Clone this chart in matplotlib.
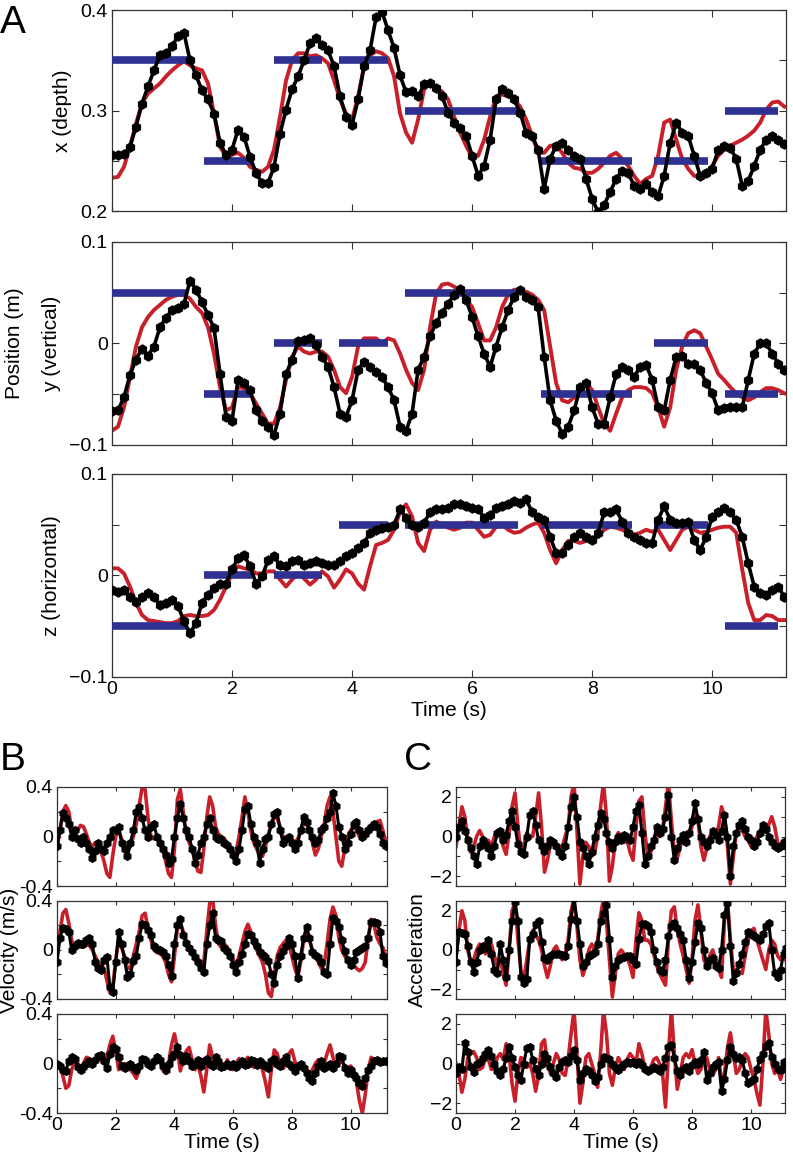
import numpy as np
import matplotlib

matplotlib.use("Agg")
import matplotlib.pyplot as plt

plt.rcParams["font.family"] = ["Liberation Sans", "DejaVu Sans"]

# time base for every trace (s)
t = np.arange(113) * 0.1

# ---- panel A: position ----
x_meas = [0.256, 0.256, 0.257, 0.264, 0.284, 0.307, 0.324, 0.340, 0.355, 0.357,
          0.364, 0.374, 0.377, 0.350, 0.335, 0.320, 0.311, 0.297, 0.268, 0.256,
          0.261, 0.281, 0.274, 0.254, 0.238, 0.228, 0.228, 0.244, 0.277, 0.301,
          0.321, 0.334, 0.350, 0.367, 0.372, 0.365, 0.360, 0.344, 0.314, 0.294,
          0.286, 0.311, 0.344, 0.360, 0.393, 0.398, 0.380, 0.362, 0.335, 0.318,
          0.319, 0.314, 0.326, 0.327, 0.322, 0.314, 0.298, 0.288, 0.283, 0.275,
          0.255, 0.235, 0.245, 0.271, 0.311, 0.321, 0.317, 0.311, 0.298, 0.278,
          0.275, 0.261, 0.222, 0.252, 0.265, 0.268, 0.261, 0.255, 0.252, 0.232,
          0.212, 0.199, 0.206, 0.219, 0.232, 0.240, 0.238, 0.225, 0.222, 0.227,
          0.219, 0.215, 0.235, 0.268, 0.288, 0.278, 0.275, 0.255, 0.235, 0.238,
          0.242, 0.261, 0.265, 0.263, 0.252, 0.225, 0.230, 0.245, 0.261, 0.271,
          0.275, 0.271, 0.267]
x_pred = [0.233, 0.234, 0.244, 0.264, 0.287, 0.307, 0.317, 0.322, 0.327, 0.334,
          0.340, 0.345, 0.349, 0.345, 0.342, 0.340, 0.327, 0.297, 0.264, 0.254,
          0.256, 0.258, 0.253, 0.244, 0.241, 0.239, 0.244, 0.261, 0.294, 0.330,
          0.350, 0.357, 0.357, 0.354, 0.355, 0.352, 0.347, 0.330, 0.311, 0.297,
          0.291, 0.314, 0.344, 0.355, 0.359, 0.357, 0.352, 0.334, 0.297, 0.278,
          0.268, 0.291, 0.321, 0.327, 0.322, 0.319, 0.311, 0.294, 0.278, 0.265,
          0.253, 0.255, 0.271, 0.294, 0.314, 0.316, 0.314, 0.311, 0.304, 0.291,
          0.275, 0.258, 0.258, 0.265, 0.265, 0.258, 0.248, 0.243, 0.242, 0.238,
          0.238, 0.242, 0.248, 0.255, 0.258, 0.252, 0.245, 0.235, 0.227, 0.232,
          0.235, 0.255, 0.288, 0.291, 0.271, 0.252, 0.242, 0.235, 0.234, 0.238,
          0.245, 0.255, 0.261, 0.265, 0.268, 0.271, 0.275, 0.280, 0.288, 0.301,
          0.308, 0.309, 0.304]
y_meas = [-0.067, -0.066, -0.053, -0.031, -0.016, -0.005, -0.012, -0.003, 0.016, 0.025,
          0.033, 0.035, 0.039, 0.062, 0.053, 0.041, 0.028, 0.015, -0.030, -0.072,
          -0.076, -0.036, -0.039, -0.046, -0.066, -0.076, -0.082, -0.090, -0.069, -0.030,
          -0.016, 0.002, 0.003, 0.005, -0.002, -0.013, -0.023, -0.043, -0.069, -0.072,
          -0.056, -0.026, -0.018, -0.023, -0.028, -0.033, -0.043, -0.056, -0.082, -0.086,
          -0.069, -0.026, -0.013, 0.007, 0.020, 0.030, 0.039, 0.048, 0.054, 0.043,
          0.026, 0.007, -0.010, -0.023, -0.003, 0.016, 0.033, 0.046, 0.053, 0.046,
          0.043, 0.036, -0.013, -0.056, -0.076, -0.089, -0.082, -0.066, -0.043, -0.039,
          -0.063, -0.079, -0.079, -0.053, -0.030, -0.023, -0.026, -0.033, -0.023, -0.021,
          -0.036, -0.063, -0.066, -0.036, -0.013, -0.012, -0.020, -0.020, -0.026, -0.039,
          -0.049, -0.066, -0.064, -0.063, -0.063, -0.063, -0.036, -0.010, 0.000, 0.000,
          -0.010, -0.020, -0.026]
y_pred = [-0.086, -0.082, -0.063, -0.033, -0.003, 0.016, 0.026, 0.033, 0.038, 0.043,
          0.046, 0.048, 0.048, 0.044, 0.036, 0.030, 0.016, -0.010, -0.043, -0.066,
          -0.063, -0.043, -0.044, -0.049, -0.059, -0.069, -0.079, -0.079, -0.063, -0.036,
          -0.013, -0.003, -0.008, -0.010, -0.008, -0.008, -0.013, -0.026, -0.043, -0.049,
          -0.033, -0.003, 0.005, 0.005, 0.005, 0.000, 0.005, 0.003, -0.010, -0.026,
          -0.039, -0.046, -0.026, 0.016, 0.049, 0.058, 0.059, 0.056, 0.051, 0.043,
          0.036, 0.020, 0.003, 0.003, 0.016, 0.036, 0.048, 0.053, 0.051, 0.051,
          0.048, 0.043, 0.033, -0.003, -0.039, -0.056, -0.058, -0.053, -0.043, -0.039,
          -0.046, -0.063, -0.079, -0.086, -0.069, -0.053, -0.046, -0.043, -0.043, -0.044,
          -0.049, -0.063, -0.082, -0.063, -0.026, -0.003, 0.010, 0.013, 0.010, -0.003,
          -0.016, -0.030, -0.036, -0.043, -0.049, -0.053, -0.056, -0.053, -0.048, -0.044,
          -0.044, -0.046, -0.049]
z_meas = [-0.014, -0.016, -0.014, -0.021, -0.026, -0.021, -0.017, -0.021, -0.029, -0.027,
          -0.024, -0.030, -0.045, -0.057, -0.047, -0.027, -0.019, -0.012, -0.008, -0.008,
          0.006, 0.017, 0.020, 0.009, -0.008, -0.001, 0.015, 0.019, 0.010, 0.009,
          0.014, 0.015, 0.010, 0.012, 0.014, 0.012, 0.010, 0.010, 0.014, 0.019,
          0.022, 0.027, 0.032, 0.042, 0.045, 0.047, 0.048, 0.050, 0.065, 0.057,
          0.050, 0.048, 0.052, 0.062, 0.065, 0.065, 0.066, 0.070, 0.070, 0.068,
          0.066, 0.065, 0.057, 0.060, 0.066, 0.068, 0.070, 0.073, 0.071, 0.075,
          0.062, 0.058, 0.055, 0.038, 0.022, 0.022, 0.030, 0.038, 0.042, 0.038,
          0.035, 0.042, 0.062, 0.062, 0.065, 0.053, 0.042, 0.038, 0.035, 0.032,
          0.032, 0.055, 0.068, 0.055, 0.052, 0.052, 0.053, 0.035, 0.025, 0.038,
          0.058, 0.062, 0.066, 0.062, 0.055, 0.038, 0.012, -0.011, -0.017, -0.019,
          -0.014, -0.011, -0.021]
z_pred = [0.007, 0.007, 0.002, -0.011, -0.027, -0.039, -0.044, -0.045, -0.046, -0.047,
          -0.047, -0.045, -0.040, -0.039, -0.040, -0.040, -0.039, -0.034, -0.024, -0.011,
          0.002, 0.009, 0.007, 0.006, 0.002, 0.002, 0.004, 0.004, -0.004, -0.011,
          -0.004, 0.002, -0.003, -0.009, -0.004, 0.004, -0.001, -0.012, -0.004, 0.006,
          0.002, -0.008, -0.014, 0.009, 0.030, 0.032, 0.035, 0.045, 0.063, 0.070,
          0.058, 0.032, 0.024, 0.045, 0.053, 0.050, 0.047, 0.045, 0.047, 0.052,
          0.052, 0.045, 0.038, 0.040, 0.048, 0.050, 0.045, 0.042, 0.043, 0.047,
          0.050, 0.052, 0.042, 0.025, 0.012, 0.025, 0.034, 0.034, 0.032, 0.034,
          0.035, 0.038, 0.045, 0.048, 0.047, 0.045, 0.042, 0.040, 0.042, 0.045,
          0.043, 0.045, 0.035, 0.025, 0.035, 0.045, 0.048, 0.045, 0.042, 0.043,
          0.045, 0.047, 0.048, 0.048, 0.042, 0.006, -0.027, -0.044, -0.044, -0.039,
          -0.040, -0.044, -0.044]

# target holds: start, end (s) and level for x, y, z
hold_start = [0.0, 1.53, 2.70, 3.78, 4.88, 7.14, 9.03, 10.22]
hold_end = [1.27, 2.33, 3.50, 4.60, 6.77, 8.66, 9.93, 11.10]
x_target = [0.35, 0.25, 0.35, 0.35, 0.30, 0.25, 0.25, 0.30]
y_target = [0.05, -0.05, 0.0, 0.0, 0.05, -0.05, 0.0, -0.05]
z_target = [-0.05, 0.0, 0.0, 0.05, 0.05, 0.05, 0.05, -0.05]

# ---- panel B: velocity (m/s) ----
vx_meas = [-0.08, 0.05, 0.19, 0.15, 0.10, 0.00, 0.05, -0.02, -0.05, 0.00,
           -0.05, -0.10, -0.17, -0.12, -0.05, -0.10, -0.12, -0.05, 0.00, 0.05,
           0.05, 0.08, -0.05, -0.10, -0.16, -0.05, 0.05, 0.20, 0.24, 0.15,
           0.05, 0.00, 0.08, 0.10, 0.00, -0.05, -0.10, -0.15, -0.21, -0.18,
           0.00, 0.15, 0.26, 0.15, 0.05, 0.00, -0.10, -0.21, -0.15, -0.05,
           0.00, 0.10, 0.15, 0.05, 0.00, -0.02, -0.02, -0.05, -0.07, -0.10,
           -0.15, -0.20, -0.10, 0.05, 0.22, 0.25, 0.10, 0.00, -0.05, -0.21,
           -0.10, -0.02, 0.00, 0.10, 0.18, 0.20, 0.05, -0.05, -0.02, 0.00,
           -0.05, -0.10, -0.05, 0.05, 0.16, 0.12, 0.05, 0.00, -0.05, -0.03,
           0.05, 0.08, 0.15, 0.20, 0.35, 0.25, 0.08, 0.00, -0.10, -0.05,
           0.02, 0.10, 0.12, 0.05, 0.00, 0.02, 0.05, 0.08, 0.10, 0.08,
           0.02, -0.05, -0.08]
vx_pred = [-0.10, 0.05, 0.20, 0.25, 0.20, 0.05, 0.00, 0.05, 0.09, 0.08,
           0.02, -0.05, -0.08, -0.05, -0.08, -0.12, -0.20, -0.30, -0.33, -0.15,
           0.00, 0.05, -0.02, -0.08, -0.12, -0.08, 0.00, 0.10, 0.25, 0.40,
           0.38, 0.15, 0.00, -0.02, -0.02, -0.05, -0.10, -0.20, -0.30, -0.33,
           -0.10, 0.30, 0.38, 0.20, 0.02, -0.05, -0.10, -0.20, -0.28, -0.29,
           -0.10, 0.15, 0.32, 0.25, 0.08, 0.02, 0.00, -0.02, -0.05, -0.10,
           -0.16, -0.12, 0.00, 0.15, 0.32, 0.20, 0.05, -0.05, -0.10, -0.15,
           -0.16, -0.08, 0.02, 0.10, 0.15, 0.15, 0.08, 0.00, -0.02, 0.00,
           -0.02, -0.05, -0.02, 0.05, 0.10, 0.10, 0.05, -0.05, -0.15, -0.10,
           0.00, 0.10, 0.25, 0.32, 0.20, 0.00, -0.20, -0.24, -0.10, 0.00,
           0.05, 0.08, 0.05, 0.00, -0.02, 0.02, 0.05, 0.08, 0.10, 0.12,
           0.13, 0.05, -0.05]
vy_meas = [-0.10, 0.10, 0.18, 0.17, 0.15, 0.00, 0.03, 0.06, 0.05, 0.05,
           0.08, 0.10, 0.05, -0.10, -0.15, -0.16, -0.08, -0.06, -0.30, -0.34,
           -0.10, 0.15, 0.05, -0.08, -0.22, -0.20, -0.09, -0.05, 0.10, 0.21,
           0.20, 0.16, 0.12, 0.03, 0.01, 0.00, -0.02, -0.05, -0.12, -0.21,
           0.05, 0.20, 0.25, 0.12, 0.06, 0.02, -0.02, -0.06, -0.10, -0.15,
           -0.18, 0.05, 0.20, 0.30, 0.10, 0.08, 0.07, 0.02, -0.01, -0.05,
           -0.12, -0.18, -0.10, -0.03, 0.05, 0.13, 0.12, 0.07, 0.03, -0.02,
           -0.04, -0.06, -0.09, -0.20, -0.27, -0.12, -0.05, -0.01, 0.03, 0.10,
           0.05, -0.05, -0.23, -0.05, 0.10, 0.19, 0.10, -0.02, -0.04, -0.06,
           -0.10, -0.18, -0.20, 0.05, 0.26, 0.24, 0.19, 0.08, -0.01, -0.08,
           -0.12, -0.08, -0.02, 0.00, 0.02, 0.03, 0.10, 0.23, 0.23, 0.22,
           0.15, -0.05, -0.11]
vy_pred = [-0.05, 0.15, 0.30, 0.33, 0.22, 0.08, 0.02, 0.04, 0.05, 0.06,
           0.06, 0.04, 0.00, -0.05, -0.10, -0.12, -0.15, -0.25, -0.35, -0.30,
           -0.08, 0.08, 0.02, -0.05, -0.15, -0.15, -0.05, 0.05, 0.15, 0.28,
           0.30, 0.18, 0.08, 0.00, -0.02, -0.03, -0.05, -0.10, -0.20, -0.26,
           -0.05, 0.18, 0.22, 0.15, 0.08, 0.03, -0.02, -0.08, -0.12, -0.15,
           -0.10, 0.15, 0.38, 0.42, 0.20, 0.05, 0.02, 0.05, 0.02, -0.03,
           -0.08, -0.12, -0.05, 0.05, 0.15, 0.21, 0.15, 0.05, 0.00, -0.05,
           -0.10, -0.20, -0.35, -0.38, -0.20, -0.05, 0.02, 0.05, 0.08, 0.05,
           -0.05, -0.15, -0.22, -0.10, 0.08, 0.15, 0.08, 0.00, -0.05, -0.10,
           -0.15, -0.12, 0.05, 0.25, 0.35, 0.28, 0.10, 0.00, -0.05, -0.08,
           -0.10, -0.12, -0.15, -0.17, -0.15, -0.10, 0.10, 0.25, 0.20, 0.10,
           0.05, 0.02, -0.05]
vz_meas = [0.00, -0.02, -0.05, -0.06, 0.02, 0.05, 0.04, -0.03, -0.05, -0.03,
           0.00, 0.02, 0.00, 0.03, 0.06, 0.07, 0.02, -0.04, 0.08, 0.13,
           0.12, 0.05, -0.02, -0.04, -0.02, 0.00, -0.03, -0.05, -0.02, 0.04,
           0.03, 0.00, -0.02, 0.02, 0.05, 0.03, -0.02, -0.05, 0.00, 0.05,
           0.08, 0.13, 0.07, 0.02, 0.06, 0.02, -0.02, 0.00, 0.03, -0.02,
           0.02, 0.04, 0.00, -0.02, 0.05, 0.02, -0.03, -0.02, 0.00, -0.02,
           0.00, -0.03, 0.00, 0.02, -0.01, 0.00, 0.03, 0.02, -0.01, 0.02,
           0.00, -0.02, -0.04, 0.02, 0.04, 0.00, -0.02, 0.02, 0.05, 0.00,
           -0.03, -0.06, -0.02, 0.00, -0.04, -0.08, -0.12, -0.14, -0.08, -0.02,
           0.02, -0.04, -0.02, 0.00, -0.04, 0.00, 0.06, 0.05, -0.04, -0.08,
           -0.05, -0.09, -0.12, -0.16, -0.18, -0.12, -0.05, -0.02, 0.02, 0.03,
           0.01, 0.02, 0.02]
vz_pred = [0.00, -0.02, -0.10, -0.20, -0.18, -0.05, 0.02, 0.00, -0.03, 0.00,
           0.05, 0.04, -0.02, 0.02, 0.05, 0.03, 0.00, 0.05, 0.15, 0.22,
           0.10, -0.05, -0.03, 0.00, -0.02, -0.05, -0.08, -0.12, -0.05, 0.02,
           0.05, 0.03, -0.03, 0.00, 0.06, 0.04, -0.05, -0.08, 0.00, 0.15,
           0.24, 0.12, -0.06, 0.03, 0.10, 0.13, 0.03, -0.05, 0.00, -0.10,
           -0.23, -0.05, 0.15, 0.05, -0.02, 0.02, 0.00, -0.04, 0.03, -0.02,
           -0.05, 0.00, 0.04, -0.02, 0.02, 0.05, 0.00, -0.03, 0.02, 0.00,
           -0.05, -0.15, -0.27, -0.05, 0.11, 0.08, -0.02, -0.04, 0.00, 0.08,
           0.11, 0.02, -0.05, -0.02, 0.00, -0.05, -0.08, -0.05, 0.00, 0.03,
           -0.02, 0.00, 0.08, 0.15, 0.05, -0.03, 0.00, 0.02, -0.02, -0.05,
           -0.02, -0.05, -0.15, -0.30, -0.40, -0.25, -0.05, 0.05, 0.03, 0.00,
           0.02, 0.03, 0.00]

# ---- panel C: acceleration ----
ax_meas = [0.0, 0.5, 0.8, 0.3, -0.2, -0.6, -1.0, -1.4, -0.5, -0.2,
           -0.4, -0.6, -1.0, -0.5, 0.2, 0.3, -0.2, 0.1, 0.8, 1.3,
           0.5, -0.4, -0.8, -0.9, 0.0, 1.1, 1.3, 0.6, -0.2, -0.5,
           -0.75, -0.5, -0.2, -0.3, -0.5, -0.8, -1.0, -0.5, 0.5, 1.5,
           2.0, 1.0, -0.3, -0.6, -1.0, -1.4, -0.8, 0.0, 0.6, 1.2,
           0.9, 0.2, -0.3, -0.6, -0.3, 0.0, -0.2, 0.1, 0.0, -0.2,
           0.5, 1.3, 1.6, 0.2, -1.4, -1.0, -0.5, -0.2, 0.5, 0.2,
           0.4, 1.0, 2.1, 0.0, -1.2, -0.6, -0.2, 0.1, -0.3, 0.2,
           0.8, 1.7, 0.9, 0.0, -0.3, -0.5, -0.2, 0.3, 0.1, -0.2,
           0.3, 1.1, 0.0, -2.0, -0.5, 0.2, 0.6, 0.8, 0.4, 0.0,
           -0.2, -0.5, -0.3, 0.2, 0.6, 0.4, 0.0, -0.3, -0.5, -0.6,
           -0.5, -0.3, -0.5]
ax_pred = [-0.5, 0.5, 1.5, 1.0, -0.2, -0.8, -0.5, 0.0, 0.3, 0.0,
           -0.3, -0.2, -0.5, 0.0, 0.3, 0.0, -0.5, -0.9, 0.2, 1.5,
           2.2, 0.5, -0.8, -0.5, 0.2, 0.0, 0.0, 1.0, 2.2, 0.5,
           -1.8, -1.2, -0.4, -0.2, -0.4, -0.6, -0.5, 0.0, 0.5, 2.0,
           2.7, 0.3, -2.4, -1.0, -0.3, -0.5, -1.0, -0.8, 0.0, 1.5,
           2.7, 1.0, -2.25, -1.5, -0.2, 0.2, 0.0, -0.3, -0.2, -0.8,
           -1.2, 0.5, 1.8, 2.0, 0.2, -1.0, -0.8, -0.3, 0.2, 0.0,
           0.3, 1.5, 2.7, 0.8, -0.8, -1.1, -0.5, 0.0, 0.2, 0.0,
           0.5, 1.2, 0.8, -0.5, -1.2, -0.6, 0.0, 0.3, 0.1, 0.5,
           1.5, 1.0, -0.5, -2.4, -1.0, 0.2, 0.5, 0.3, 0.0, -0.2,
           -0.5, -0.3, 0.0, 0.3, 0.5, 0.2, 0.6, 1.0, 0.5, -0.3,
           -0.5, -0.2, -0.4]
ay_meas = [-0.6, 0.9, 0.85, 0.8, 0.2, -0.6, -1.1, -0.6, 0.0, 0.2,
           0.1, 0.5, -0.2, -1.0, -1.2, 0.3, -0.5, -1.4, 0.0, 1.5,
           2.45, 1.5, -1.4, -1.7, -1.5, 0.56, 0.8, 1.3, 1.5, 0.4,
           -0.4, -0.5, -0.3, -0.2, -0.2, -0.2, -0.25, -0.3, 0.2, 1.6,
           2.65, 1.5, 0.3, -0.8, -0.6, -0.3, -0.2, -0.1, 0.3, 1.5,
           1.9, 2.3, 0.56, -1.4, -0.8, -0.5, -0.4, -0.35, -0.3, -0.3,
           -0.5, -0.7, 0.56, 1.3, 1.3, 1.2, 0.9, 0.0, -0.6, -1.0,
           -1.1, -0.5, 0.7, 1.2, 1.35, 1.1, 0.8, 0.5, -0.5, -1.45,
           -0.6, 0.4, 1.4, 1.1, 0.0, -0.8, -0.5, -0.4, -0.8, -0.9,
           0.0, 1.8, 2.4, 0.2, -1.6, -1.2, -0.7, -0.2, 0.4, 0.9,
           0.8, 0.7, 0.6, 0.5, 0.8, 1.2, 1.4, 0.0, -1.2, -1.4,
           -1.0, -0.2, 0.1]
ay_pred = [-0.3, 1.0, 2.0, 1.5, 0.0, -0.7, -0.5, 0.0, 0.3, 0.2,
           -0.2, 0.0, 0.3, -0.3, -0.8, -0.5, -1.2, -1.8, 0.0, 2.0,
           2.4, 0.5, -1.0, -1.5, -0.5, 0.5, 1.0, 0.8, 0.5, 0.0,
           -0.8, -1.4, -0.8, 0.0, 0.2, -0.2, -0.5, -0.2, 0.5, 2.0,
           2.6, 1.2, -0.5, -1.3, -0.8, 0.0, 0.3, 0.0, 0.5, 1.8,
           2.6, 1.5, -0.5, -2.4, -1.2, -0.2, 0.0, -0.2, -0.4, -0.8,
           -1.4, 0.5, 1.9, 1.5, 0.5, 0.5, 0.3, -0.2, -0.8, -1.2,
           -1.5, -1.8, 0.5, 2.0, 2.2, 1.0, 0.3, -0.3, -1.0, -1.7,
           -0.5, 1.5, 2.3, 1.0, -0.5, -0.8, -0.3, 0.0, -0.5, -1.0,
           -1.4, 1.5, 2.6, 0.5, -1.0, -1.0, -1.1, -1.2, -0.3, 0.5,
           1.0, 1.1, 0.5, 0.0, -0.5, -1.0, 0.0, 0.5, 0.3, -0.3,
           -0.5, -0.2, -0.6]
az_meas = [-0.5, -0.2, -0.3, 1.05, 0.6, -0.2, -0.45, 0.0, 0.1, 0.3,
           0.5, 0.7, 0.4, 0.0, -0.4, -0.6, -0.3, 0.3, 0.85, 0.3,
           -0.2, -0.6, -0.85, 0.0, 0.8, 0.85, 0.2, -0.3, -0.6, 0.0,
           0.5, 0.3, -0.2, -0.5, -0.7, -0.2, 0.1, 0.2, 0.1, 0.4,
           0.7, 0.2, -0.85, -0.5, -0.3, -0.4, -0.6, -0.9, -0.7, 0.0,
           0.35, 0.3, 0.25, 0.0, -0.2, -0.35, -0.2, 0.0, 0.1, 0.05,
           0.1, 0.0, 0.1, -0.1, -0.3, -0.4, -0.3, -0.2, -0.3, -0.4,
           -0.2, 0.3, 0.85, 0.95, 0.3, -0.4, -0.6, -0.3, -0.2, -0.4,
           -0.1, 0.1, 0.0, 0.2, 0.6, -0.85, -0.5, -0.2, 0.0, 0.1,
           -1.4, -0.8, 0.2, 0.85, 0.5, 0.3, 0.35, 0.2, -0.5, -1.0,
           -0.9, -0.8, -0.3, 0.25, 0.5, 0.9, 1.05, 0.35, 0.0, -0.3,
           -0.35, 0.1, 0.0]
az_pred = [0.0, -0.5, -1.45, -0.8, 0.3, 0.5, 0.6, 0.3, -0.3, -0.2,
           0.3, 0.2, -0.3, -0.2, 0.3, 0.5, 0.2, 1.0, 0.5, -1.0,
           -1.9, -0.5, 0.3, 0.2, -0.2, 0.0, -0.5, -1.4, -0.6, 1.0,
           1.2, 0.0, -0.5, 0.0, 0.5, 0.2, -0.5, -0.6, 0.2, 1.5,
           2.7, 0.5, -2.0, -1.0, 0.3, 0.5, 0.0, -0.5, -1.2, 0.5,
           2.7, 1.5, -0.5, -1.1, -0.2, 0.3, 0.0, -0.3, 0.2, 0.5,
           0.3, 0.0, 1.0, 0.5, -0.3, -0.5, -0.2, 0.2, 0.3, 0.0,
           -0.5, -2.2, 0.5, 2.7, 0.5, -1.3, -0.5, 0.3, 0.5, 0.3,
           0.7, 0.0, -0.5, -0.3, 0.2, 0.3, -0.3, -0.6, -0.3, 0.3,
           -0.9, -0.5, 0.8, 1.55, 0.5, -0.5, -0.3, 0.2, 0.5, 0.3,
           -0.3, -0.8, -1.5, -2.1, 0.0, 2.7, 1.5, 0.0, -0.5, -0.3,
           -0.8, -0.2, 0.0]

RED = "#c8202a"
BLUE = "#2e3192"
FRAME = "#333333"


def style_axes(ax, xlim, ylim, yticks, ylabels, xlabels, fs, ticklen):
    ax.set_xlim(*xlim)
    ax.set_ylim(*ylim)
    ax.set_xticks([0, 2, 4, 6, 8, 10])
    ax.set_xticklabels(["0", "2", "4", "6", "8", "10"] if xlabels else [])
    ax.set_yticks(yticks)
    ax.set_yticklabels(ylabels)
    ax.tick_params(direction="in", top=True, right=True, length=ticklen,
                   width=0.8, color=FRAME, labelsize=fs, pad=3)
    for s in ax.spines.values():
        s.set_color(FRAME)
        s.set_linewidth(0.9)


def draw_pair(ax, meas, pred, msize, mlw, rlw):
    ax.plot(t, pred, color=RED, lw=rlw, zorder=2, solid_joinstyle="round")
    ax.plot(t, meas, color="black", lw=mlw, marker="h", ms=msize,
            mec="black", mfc="black", mew=1.0, zorder=4)


fig = plt.figure(figsize=(7.93, 11.57), dpi=100)

# panel A
a_pos = [(0.1412, 0.8176, 0.850, 0.1737),
         (0.1412, 0.6154, 0.850, 0.1755),
         (0.1412, 0.4149, 0.850, 0.1755)]
a_meas = [x_meas, y_meas, z_meas]
a_pred = [x_pred, y_pred, z_pred]
a_target = [x_target, y_target, z_target]
a_lim = [(0.2, 0.4), (-0.1, 0.1), (-0.1, 0.1)]
a_ticks = [[0.2, 0.25, 0.3, 0.35, 0.4], [-0.1, -0.05, 0, 0.05, 0.1], [-0.1, -0.05, 0, 0.05, 0.1]]
a_tlabels = [["0.2", "", "0.3", "", "0.4"], ["\u22120.1", "", "0", "", "0.1"],
             ["\u22120.1", "", "0", "", "0.1"]]
a_names = ["x (depth)", "y (vertical)", "z (horizontal)"]
for i in range(3):
    ax = fig.add_axes(a_pos[i])
    draw_pair(ax, a_meas[i], a_pred[i], 6.5, 2.6, 2.8)
    ax.hlines(a_target[i], hold_start, hold_end, color=BLUE, lw=5.5, zorder=3)
    style_axes(ax, (0, 11.23), a_lim[i], a_ticks[i], a_tlabels[i], i == 2, 14, 5)
    ax.set_ylabel(a_names[i], fontsize=15, labelpad=6)
    if i == 2:
        ax.set_xlabel("Time (s)", fontsize=15, labelpad=2)
fig.text(14 / 793, 1 - 343 / 1157, "Position (m)", rotation=90, fontsize=15,
         ha="center", va="center")

# panels B and C
row_y = [(0.2342, 0.0856), (0.1366, 0.0847), (0.0380, 0.0856)]
b_meas = [vx_meas, vy_meas, vz_meas]
b_pred = [vx_pred, vy_pred, vz_pred]
c_meas = [ax_meas, ay_meas, az_meas]
c_pred = [ax_pred, ay_pred, az_pred]
for i in range(3):
    axb = fig.add_axes((0.0719, row_y[i][0], 0.4161, row_y[i][1]))
    draw_pair(axb, b_meas[i], b_pred[i], 5.5, 2.2, 2.6)
    style_axes(axb, (0, 11.24), (-0.4, 0.4), [-0.4, -0.2, 0, 0.2, 0.4],
               ["-0.4", "", "0", "", "0.4"], i == 2, 14, 3)
    axc = fig.add_axes((0.575, row_y[i][0], 0.4149, row_y[i][1]))
    draw_pair(axc, c_meas[i], c_pred[i], 5.5, 2.2, 2.6)
    style_axes(axc, (0, 11.15), (-2.5, 2.5), [-2, -1, 0, 1, 2],
               ["\u22122", "", "0", "", "2"], i == 2, 14, 3)
    if i == 1:
        axb.set_ylabel("Velocity (m/s)", fontsize=15, labelpad=0)
        axc.set_ylabel("Acceleration", fontsize=15, labelpad=2)
    if i == 2:
        axb.set_xlabel("Time (s)", fontsize=15, labelpad=-1)
        axc.set_xlabel("Time (s)", fontsize=15, labelpad=-1)

fig.text(0.0, 1 - 33 / 1157, "A", fontsize=28, ha="left", va="baseline")
fig.text(0.0, 1 - 770 / 1157, "B", fontsize=28, ha="left", va="baseline")
fig.text(404 / 793, 1 - 770 / 1157, "C", fontsize=28, ha="left", va="baseline")

fig.savefig("out.png", dpi=100)
